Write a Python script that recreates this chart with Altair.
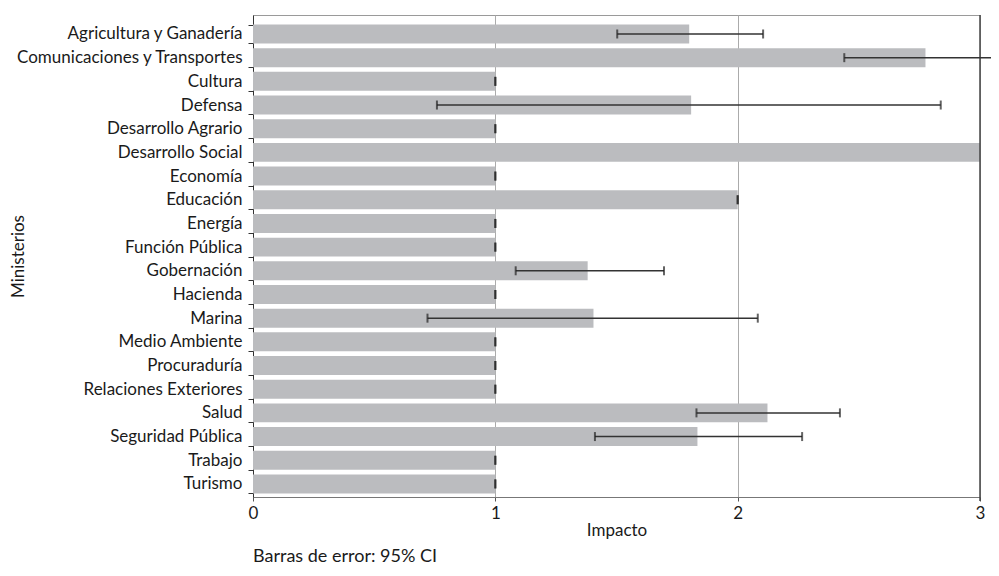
import altair as alt
import pandas as pd

ministerios = ["Agricultura y Ganadería", "Comunicaciones y Transportes", "Cultura", "Defensa",
               "Desarrollo Agrario", "Desarrollo Social", "Economía", "Educación", "Energía",
               "Función Pública", "Gobernación", "Hacienda", "Marina", "Medio Ambiente",
               "Procuraduría", "Relaciones Exteriores", "Salud", "Seguridad Pública", "Trabajo", "Turismo"]
impacto = [1.80, 2.775, 1.0, 1.808, 1.0, 3.0, 1.0, 2.0, 1.0, 1.0,
           1.381, 1.0, 1.405, 1.0, 1.0, 1.0, 2.123, 1.834, 1.0, 1.0]
ci_low = [1.503, 2.44, 1.0, 0.759, 1.0, None, 1.0, 2.0, 1.0, 1.0,
          1.084, 1.0, 0.72, 1.0, 1.0, 1.0, 1.83, 1.411, 1.0, 1.0]
ci_high = [2.105, 3.15, 1.0, 2.838, 1.0, None, 1.0, 2.0, 1.0, 1.0,
           1.696, 1.0, 2.083, 1.0, 1.0, 1.0, 2.422, 2.266, 1.0, 1.0]
x_ticks = [0, 1, 2, 3]

df = pd.DataFrame({"Ministerio": ministerios, "Impacto": impacto, "low": ci_low, "high": ci_high})
err = df.dropna()

FONT = "Lato"
FS = 17
W, H = 727, 482

ysc = alt.Scale(domain=ministerios, paddingInner=0.2, paddingOuter=0.277, align=0.725)
xsc = alt.Scale(domain=[0, 3], nice=False)

y_enc = alt.Y("Ministerio:N", sort=ministerios, scale=ysc,
              axis=alt.Axis(title="Ministerios", tickBand="extent", domainColor="#333", tickColor="#333",
                            tickSize=5, labelFontSize=FS, labelColor="#1a1a1a", labelPadding=6,
                            labelLimit=400, titleFontSize=FS, titleFontWeight="normal",
                            titleColor="#1a1a1a", titleX=-235, titleY=H / 2, titleBaseline="middle",
                            labelFont=FONT, titleFont=FONT))
y_plain = alt.Y("Ministerio:N", sort=ministerios, scale=ysc)

bars = alt.Chart(df).mark_bar(color="#bbbcbf").encode(
    x=alt.X("Impacto:Q", scale=xsc,
            axis=alt.Axis(title="Impacto", values=x_ticks, format="d", grid=True, gridColor="#ababab",
                          domainColor="#777", tickColor="#555", tickSize=4, labelFontSize=FS,
                          labelColor="#1a1a1a", labelPadding=4, titleFontSize=FS, titleFontWeight="normal",
                          titleColor="#1a1a1a", titlePadding=1, labelFont=FONT, titleFont=FONT,
                          labelFlush=False)),
    y=y_enc,
)

border = alt.Chart(pd.DataFrame({"x": [x_ticks[-1]]})).mark_rule(color="#444", strokeWidth=1.5).encode(
    x=alt.X("x:Q", scale=xsc), y=alt.value(0), y2=alt.value(H + 4))

rules = alt.Chart(err).mark_rule(color="#333", strokeWidth=1.5, clip=False).encode(
    x=alt.X("low:Q", scale=xsc), x2="high:Q", y=y_plain)

cap_lo = alt.Chart(err).mark_tick(color="#222", thickness=2, size=9, orient="vertical").encode(
    x=alt.X("low:Q", scale=xsc), y=y_plain)
cap_hi = alt.Chart(err).mark_tick(color="#222", thickness=2, size=9, orient="vertical").encode(
    x=alt.X("high:Q", scale=xsc), y=y_plain)

note = alt.Chart(pd.DataFrame({"t": ["Barras de error: 95% CI"]})).mark_text(
    align="left", baseline="alphabetic", fontSize=18, font=FONT, color="#1a1a1a").encode(
    x=alt.value(0), y=alt.value(547), text="t:N")

chart = alt.layer(bars, border, rules, cap_lo, cap_hi, note).properties(
    width=W, height=H,
    autosize=alt.AutoSizeParams(type="none"),
    padding={"left": 245, "top": 7, "right": 11, "bottom": 71},
).configure_view(stroke="#9a9a9a", strokeWidth=1)

chart.save("out.html", embed_options={"renderer": "svg", "actions": False})
